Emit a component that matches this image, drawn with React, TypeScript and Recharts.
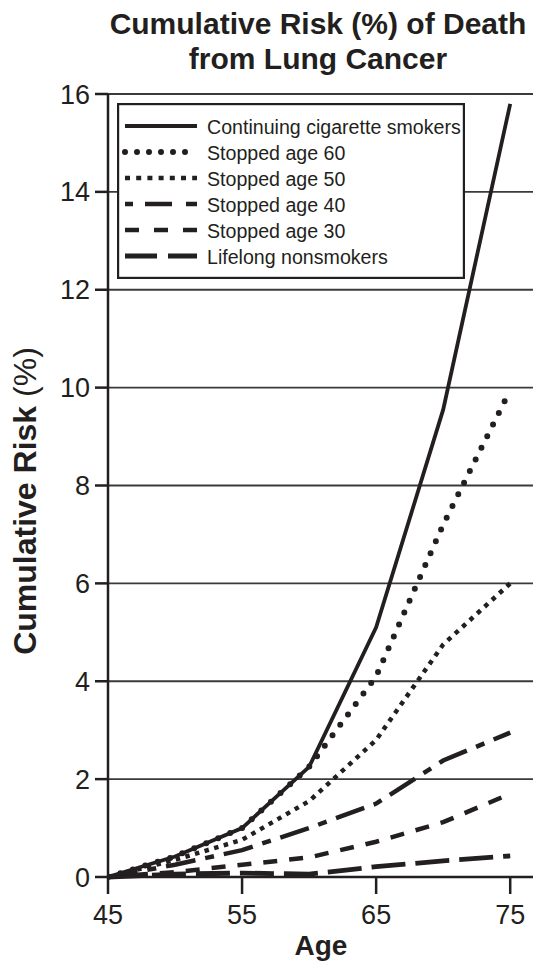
import React from "react";
import {
  CartesianGrid,
  Legend,
  Line,
  LineChart,
  XAxis,
  YAxis,
} from "recharts";

const ages = [45, 50, 55, 60, 65, 70, 75];
const continuing = [0, 0.42, 1.0, 2.25, 5.1, 9.55, 15.8];
const stopped60 = [0, 0.42, 1.0, 2.25, 4.1, 7.2, 9.95];
const stopped50 = [0, 0.35, 0.76, 1.55, 2.8, 4.75, 6.0];
const stopped40 = [0, 0.25, 0.55, 1.0, 1.5, 2.38, 2.95];
const stopped30 = [0, 0.1, 0.25, 0.4, 0.72, 1.12, 1.7];
const nonsmokers = [0, 0.06, 0.08, 0.06, 0.21, 0.33, 0.43];

const xTicks = [45, 55, 65, 75];
const yTicks = [0, 2, 4, 6, 8, 10, 12, 14, 16];

const INK = "#231f20";
const FONT = '"Liberation Sans", Arial, Helvetica, sans-serif';

const rows = ages.map((age, i) => ({
  age,
  continuing: continuing[i],
  stopped60: stopped60[i],
  stopped50: stopped50[i],
  stopped40: stopped40[i],
  stopped30: stopped30[i],
  nonsmokers: nonsmokers[i],
}));

type SeriesStyle = {
  key: string;
  name: string;
  width: number;
  dash?: string;
  legendDash?: string;
  cap?: "round" | "butt";
};

const series: SeriesStyle[] = [
  { key: "continuing", name: "Continuing cigarette smokers", width: 3.8 },
  { key: "stopped60", name: "Stopped age 60", width: 6, dash: "0 13", legendDash: "0 12", cap: "round" },
  { key: "stopped50", name: "Stopped age 50", width: 4.5, dash: "4.5 5.5", legendDash: "5 6.2" },
  { key: "stopped40", name: "Stopped age 40", width: 4.5, dash: "30 10 9 10", legendDash: "8 12 27 14 11" },
  { key: "stopped30", name: "Stopped age 30", width: 4.5, dash: "14 12", legendDash: "14 15" },
  { key: "nonsmokers", name: "Lifelong nonsmokers", width: 4.8, dash: "34 10", legendDash: "32 11" },
];

const renderLegend = () => (
  <svg width={348} height={176} style={{ display: "block" }}>
    <rect x={1.1} y={1.1} width={345.8} height={173.8} fill="#fff" stroke={INK} strokeWidth={2.2} />
    {series.map((s, i) => (
      <g key={s.key}>
        <line
          x1={8}
          x2={80}
          y1={23 + i * 26}
          y2={23 + i * 26}
          stroke={INK}
          strokeWidth={s.width}
          strokeDasharray={s.legendDash}
          strokeLinecap={s.cap ?? "butt"}
        />
        <text x={90} y={31 + i * 26} fontSize={19.6} fill={INK} fontFamily={FONT}>
          {s.name}
        </text>
      </g>
    ))}
  </svg>
);

const tickStyle = { fontSize: 27, fill: INK, fontFamily: FONT };

const App = () => {
  return (
    <div style={{ position: "absolute", left: 0, top: 0, width: 543, height: 962, fontFamily: FONT }}>
      <LineChart
        width={543}
        height={962}
        data={rows}
        margin={{ top: 94, right: 10, bottom: 0, left: 0 }}
      >
        <CartesianGrid vertical={false} stroke="#3a3a3a" strokeWidth={1.8} />
        <XAxis
          dataKey="age"
          type="number"
          domain={[45, 76.7]}
          ticks={xTicks}
          allowDataOverflow
          height={85}
          tickSize={17}
          tickMargin={11}
          tick={tickStyle}
          stroke={INK}
          axisLine={{ stroke: INK, strokeWidth: 2.5 }}
          tickLine={{ stroke: INK, strokeWidth: 2.5 }}
        />
        <XAxis
          xAxisId="top"
          orientation="top"
          type="number"
          domain={[45, 76.7]}
          height={0}
          tick={false}
          tickLine={false}
          axisLine={{ stroke: INK, strokeWidth: 2.5 }}
        />
        <YAxis
          domain={[0, 16]}
          ticks={yTicks}
          width={108}
          tickSize={13}
          tickMargin={5}
          tick={tickStyle}
          axisLine={{ stroke: INK, strokeWidth: 2.5 }}
          tickLine={{ stroke: INK, strokeWidth: 2.5 }}
        />
        <YAxis
          yAxisId="right"
          orientation="right"
          domain={[0, 16]}
          width={0}
          tick={false}
          tickLine={false}
          axisLine={{ stroke: INK, strokeWidth: 2.5 }}
        />
        {[...series].reverse().map((s) => (
          <Line
            key={s.key}
            type="linear"
            dataKey={s.key}
            name={s.name}
            stroke={INK}
            strokeWidth={s.width}
            strokeDasharray={s.dash}
            strokeLinecap={s.cap ?? "butt"}
            dot={false}
            activeDot={false}
            isAnimationActive={false}
          />
        ))}
        <Legend
          layout="vertical"
          align="center"
          verticalAlign="middle"
          content={renderLegend}
          wrapperStyle={{ position: "absolute", left: 117, top: 103, width: 348, height: 176 }}
        />
      </LineChart>
      <svg
        width={543}
        height={962}
        style={{ position: "absolute", left: 0, top: 0, pointerEvents: "none" }}
      >
        <text x={318} y={34} textAnchor="middle" fontSize={30} fontWeight="bold" fill={INK} fontFamily={FONT}>
          Cumulative Risk (%) of Death
        </text>
        <text x={318} y={69} textAnchor="middle" fontSize={30} fontWeight="bold" fill={INK} fontFamily={FONT}>
          from Lung Cancer
        </text>
        <text
          transform="rotate(-90)"
          x={-501}
          y={36}
          textAnchor="middle"
          fontSize={32}
          fill={INK}
          fontFamily={FONT}
        >
          <tspan fontWeight="bold">Cumulative Risk </tspan>
          <tspan>(%)</tspan>
        </text>
        <text x={321} y={955} textAnchor="middle" fontSize={28} fontWeight="bold" fill={INK} fontFamily={FONT}>
          Age
        </text>
      </svg>
    </div>
  );
};

export default App;
